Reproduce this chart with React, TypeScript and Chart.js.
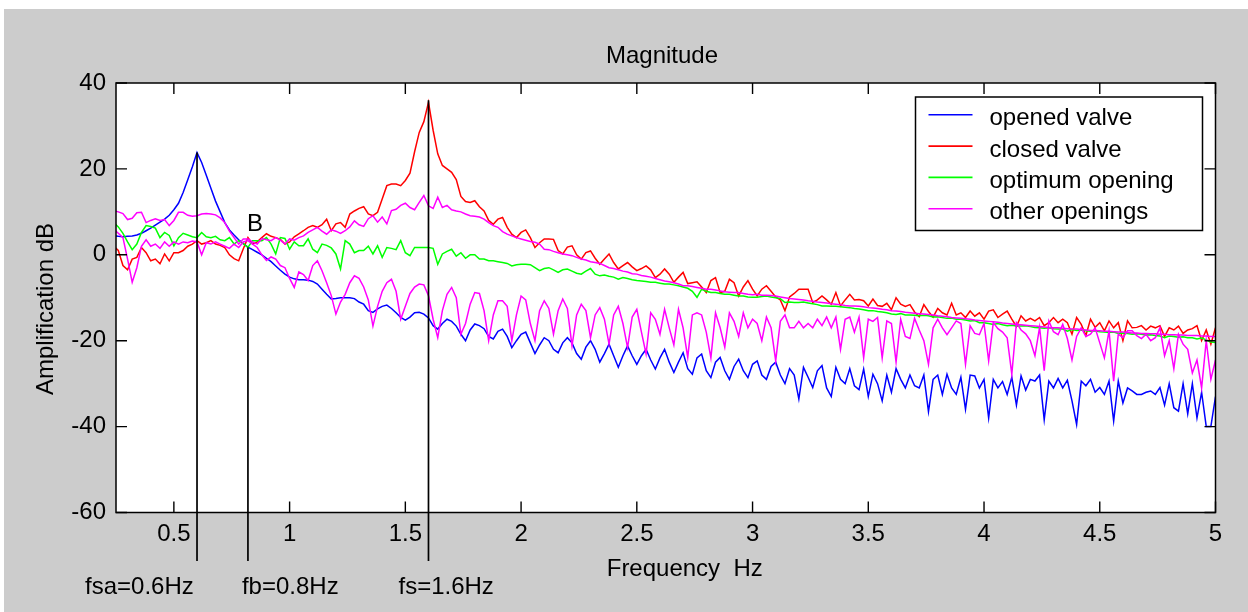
import React, { useEffect, useRef } from 'react';
import { Chart, registerables } from 'chart.js';

Chart.register(...registerables);

// Sampling grid of the curves (Hz)
const FREQ_START = 0.24;
const FREQ_STEP = 0.02;

const X_TICKS = [0.5, 1, 1.5, 2, 2.5, 3, 3.5, 4, 4.5, 5];
const Y_TICKS = [-60, -40, -20, 0, 20, 40];

// opened valve (dB), 0.24 .. 5.00 Hz
const OPENED_VALVE = [
  4.5, 4.3, 4.2, 4.3, 4.4, 4.6, 5.0, 5.6, 6.2, 6.9,
  7.6, 8.3, 9.2, 10.5, 12, 14.5, 17.5, 20.5, 23.8, 21.5,
  18.5, 15.5, 12.5, 10, 7.5, 5.8, 4.6, 3.5, 2.6, 1.8,
  1.2, 0.6, 0, -0.8, -1.6, -2.6, -3.6, -4.5, -5.2, -5.6,
  -5.8, -5.8, -5.9, -6.2, -6.8, -8, -9.2, -10.3, -10.2, -10,
  -10, -10, -10.2, -11, -11.5, -13, -13.4, -12.6, -12, -11.7,
  -12.5, -13.5, -14.6, -15.2, -14.5, -13.5, -13.4, -13.8, -14.7, -16.5,
  -17.3, -16, -15, -15.5, -16.6, -18.5, -20, -17.5, -16.1, -16.5,
  -17.2, -19, -19.6, -17.8, -17.3, -19, -21.6, -20, -18.5, -18,
  -20.5, -23, -21, -19.3, -20, -22, -22.8, -20.5, -19.3, -20.5,
  -23, -24.3, -21.5, -20, -22, -25, -23, -20.8, -23.5, -26.2,
  -23.5, -21.2, -23.5, -25.5, -23.5, -22, -24.5, -26.6, -24, -22,
  -25, -27.4, -25, -22.8, -26.5, -27.8, -24, -23.1, -27, -28.6,
  -25, -23.9, -27, -29, -26, -24.3, -27, -28.6, -25.5, -24.7,
  -28, -29, -26, -25, -28, -30, -26.5, -28, -33.6, -26.2,
  -28.5, -30.9, -27, -25.8, -31, -33, -26.2, -29, -30, -26.5,
  -30.5, -31.4, -26.6, -33, -27.8, -30, -34, -28, -32, -26.5,
  -29, -31, -28, -30.5, -31, -28, -36.5, -29, -28, -32.5,
  -27.8, -31, -32.5, -28.5, -36, -28, -28.2, -31, -29, -38,
  -29, -31, -29.5, -32.5, -28.5, -35, -28.2, -31.5, -29, -29.4,
  -28, -38.4, -29.4, -31, -28.8, -31, -29.2, -34, -39.5, -29.4,
  -30.5, -29, -32, -30.9, -32.5, -29.4, -38.7, -29.4, -34.5, -31,
  -31.7, -32.5, -32.5, -32, -31.7, -32.5, -30.9, -35, -30, -35.6,
  -36.4, -30, -37, -30, -38, -32, -40, -40, -33,
];

// closed valve (dB)
const CLOSED_VALVE = [
  2, 1, -2.5, -3.5, -1, -0.6, 1.7, 0.5, -1.4, -1,
  -2.1, 0.2, -1.4, 0.5, 0.5, 1, 2, 2.5, 3.3, 2.5,
  2.8, 3.3, 2.5, 2.2, 1.7, 0, -0.9, -1.4, 1.4, 4,
  2.5, 3, 4, 4.9, 4.3, 4, 3.6, 2.5, 3, 4.2,
  4.9, 5.6, 6.4, 6.8, 6.4, 7, 8.3, 5.6, 7.2, 7.5,
  6.4, 9.5, 10.2, 10.8, 11.2, 9.5, 9.1, 9.9, 13, 16.1,
  16.5, 16.5, 16.1, 17.3, 19, 24, 28.5, 31, 35.5, 29,
  23.5, 20.8, 20, 19.2, 17.5, 13.6, 12.4, 12.2, 12.6, 11.2,
  10.2, 8, 7.1, 8.3, 8.7, 6.4, 4.8, 4, 5.2, 5.8,
  4, 1.7, 2.8, 3.7, 3.7, 3.6, 1, 0.2, 1.8, 2.1,
  0, -1, 0.5, 0.9, -0.8, -2.2, -1, 0.2, -1.8, -3.3,
  -2.5, -1.8, -2.8, -3.7, -3.2, -2.6, -3.5, -5.3, -4.5, -3.3,
  -4.5, -6.4, -5.2, -4.1, -6.7, -6.5, -6.3, -7.5, -8.8, -6,
  -5.3, -8.8, -8.5, -5.7, -6.5, -9.6, -7.5, -6, -8, -9.6,
  -8, -7.2, -8.5, -9.8, -10.5, -13, -9.8, -9, -8, -8,
  -8, -11.1, -10.5, -9.6, -10.5, -11.5, -8.8, -11.9, -10.5, -9.2,
  -10.5, -10.4, -10.7, -11.9, -10.3, -11.8, -12, -11.3, -12.8, -10,
  -11.5, -12, -11.6, -13.3, -14.4, -11.6, -13.2, -14.5, -12.5, -13.5,
  -14, -11.3, -14, -13.5, -14.6, -13.1, -14.3, -13.5, -15, -13.1,
  -12.8, -14.6, -13.8, -13.1, -15, -16.7, -14.2, -15.4, -14.8, -15.4,
  -14.6, -16.5, -15.8, -14.6, -15.8, -15, -15.8, -18.5, -14.6, -16.2,
  -18.8, -15, -16.9, -15.8, -17.7, -15.4, -17, -15.8, -20, -15.4,
  -17, -16.9, -16.5, -17.5, -16.6, -17, -16.5, -19, -17, -17.5,
  -16.6, -18.3, -17.5, -17.2, -16.5, -20, -17.5, -20.8, -17,
];

// optimum opening (dB)
const OPTIMUM_OPENING = [
  7.5, 6.5, 5, 3, 1.2, 2.5, 5.2, 6.8, 6.6, 6.2,
  4, 5.2, 4.5, 2.1, 4, 5, 4.6, 4.2, 4, 5.2,
  4.2, 4, 4.3, 3.5, 3.3, 4, 2.5, 3.3, 2.6, 1.7,
  3.3, 3.3, 3.3, 4, 2.5, 0.2, 4, 3.8, 1.3, 3,
  2.1, 2.1, 3.7, 1.3, 0.5, 2.5, 2.2, 1.6, 0.2, -3.3,
  3.3, 2.5, 0.5, 1, 1, 2, 0.2, 2.1, -0.6, 1.7,
  1.5, 1.2, 3.3, 0.5, -0.2, 1.7, 1.7, 1.7, 1.7, 1.5,
  -2.2, 0.2, 0.8, 1.3, -0.3, 0.5, -0.8, 0, 0, -1,
  -1, -1.4, -1.4, -1.6, -1.8, -2, -2.6, -2.3, -2.2, -2.2,
  -2.3, -3, -3.7, -3.2, -3, -3.5, -4.1, -3.5, -3.3, -3.8,
  -4.3, -4.5, -3.8, -3.2, -4.5, -4.9, -4.7, -5, -5.2, -5.7,
  -5.3, -5.5, -5.8, -6, -6.1, -6.2, -6.4, -6.4, -6.6, -6.8,
  -6.8, -7, -7.2, -7.5, -7.8, -8.5, -9.9, -8, -8.5, -8.8,
  -8.8, -9, -9.2, -9.2, -9.4, -9.6, -9.6, -9.8, -9.9, -9.9,
  -9.7, -9.6, -9.8, -10, -10.2, -11.1, -11, -11.1, -11.1, -11,
  -11.2, -11.4, -11.6, -11.9, -11.9, -12, -12, -12.1, -12.2, -12.3,
  -12.5, -12.6, -12.8, -13, -13, -13.2, -13.3, -13.5, -13.8, -13.9,
  -13.7, -14, -14, -14.1, -14.2, -14.1, -14.2, -14.5, -14.4, -14.6,
  -14.8, -14.7, -15, -15, -15.2, -15.4, -15.3, -15.8, -15.8, -16,
  -16.2, -16, -16.3, -16.5, -16.4, -16.6, -16.6, -16.5, -16.7, -16.9,
  -17, -17.1, -17, -17.2, -17.3, -17.3, -17.8, -17.4, -17.6, -17.5,
  -17.7, -17.8, -17.7, -17.9, -18, -18.1, -18, -18.3, -18.2, -18.3,
  -18.5, -18.4, -18.5, -18.7, -18.6, -18.8, -18.9, -19.3, -18.9, -19,
  -19.2, -19.1, -19.3, -19.3, -19.6, -19.4, -19.8, -20.3, -20.4,
];

// other openings, upper trace (dB)
const OTHER_OPENINGS_A = [
  10.3, 10, 9.6, 8.2, 8.5, 9.8, 9.9, 7.5, 8, 8.4,
  8, 8.2, 6.8, 8, 9.9, 9.9, 9.2, 9, 9.1, 9.5,
  9.6, 9.5, 9.3, 8.6, 7.5, 5.5, 4, 2.5, 3.7, 3.7,
  3, 2.5, 3.8, 3.5, 3.3, 4, 3.4, 2.5, 3.7, 3.4,
  4, 4.4, 5.2, 5.8, 6.4, 5.5, 4.8, 5.8, 5.5, 5,
  5.6, 6.5, 7.9, 7, 6.6, 8.4, 9.1, 7.6, 8.8, 7.2,
  10.3, 10.6, 11.5, 12, 11, 10.5, 12.2, 13.8, 11.4, 10.8,
  13.4, 11, 11.5, 10.5, 10.2, 10, 9.5, 9.1, 9, 8.8,
  8.3, 7.5, 6.8, 6.4, 5.4, 4.8, 4.4, 4, 3.7, 3.4,
  3.1, 2.9, 2.5, 1.3, 1.2, 0.8, 0.5, 0.2, 0, -0.2,
  -0.6, -1, -1.2, -1.6, -1.8, -2, -2.5, -3, -3.2, -3.5,
  -3.8, -4, -4.4, -4.5, -4.8, -5, -5.2, -5.5, -5.8, -6.1,
  -6.3, -6.5, -6.8, -7.2, -7.2, -7.4, -7.6, -7.8, -8, -8,
  -8.2, -8.4, -8.6, -8.7, -8.8, -8.8, -9, -9.2, -9.3, -9.2,
  -9.4, -9.4, -9.5, -9.6, -9.8, -10, -10.2, -10.3, -10.4, -10.5,
  -10.7, -10.8, -11, -11.1, -11.2, -11.4, -11.5, -11.6, -11.8, -11.9,
  -11.9, -12, -12.1, -12.3, -12.4, -12.5, -12.7, -12.8, -13, -13.1,
  -13.2, -13.4, -13.5, -13.6, -13.7, -13.8, -13.9, -14, -14.2, -14.3,
  -14.4, -14.6, -14.7, -14.8, -14.9, -15, -15.2, -15.3, -15.4, -15.5,
  -15.6, -15.7, -15.9, -16, -16.1, -16.2, -16.3, -16.4, -16.5, -16.6,
  -16.7, -16.8, -16.9, -17, -17, -17.1, -17.2, -17.3, -17.3, -17.4,
  -17.5, -17.6, -17.6, -17.7, -17.8, -17.8, -17.9, -18, -18, -18.1,
  -18.2, -18.2, -18.3, -18.3, -18.4, -18.4, -18.5, -18.5, -18.6, -18.6,
  -18.7, -18.7, -18.8, -18.8, -18.8, -18.9, -18.9, -19, -19,
];

// other openings, lower oscillating trace (dB)
const OTHER_OPENINGS_B = [
  6, 5, 4, -1, -6.4, -3, 2, 3.5, 2, 2.5,
  1.5, 3, 2, 3, 2.5, 3, 2.8, 3.2, 3, 0,
  2.8, 2.5, 3, 2.5, 2, 1.5, 2.5, 1.7, 3, 3.3,
  2.5, 1.7, 0, -1.3, -0.5, -1, -2.5, -3, -5.5, -7.6,
  -4, -4.6, -6, -2.5, -1.4, -3.7, -6.5, -9.5, -13.8, -11,
  -9.2, -6.5, -4.9, -5.5, -7.5, -10.5, -16.6, -12, -8.5, -6.5,
  -5.7, -8.5, -15, -12, -9, -7.5, -6.8, -7, -9.5, -15,
  -19.3, -13, -9.2, -7.6, -10, -18.5, -16, -11.5, -8.8, -9,
  -13, -20, -14, -10.7, -10.7, -12, -20, -14, -9.6, -10.5,
  -16, -20, -13, -10.7, -12.5, -18.5, -13, -10.3, -12.5, -21.2,
  -14, -11.5, -13, -19.3, -14, -12.3, -15, -20.8, -14, -12,
  -16, -21.6, -14.5, -12.7, -18, -23.1, -13.5, -15, -18.5, -12.7,
  -17, -21, -12.7, -17, -23.9, -14, -13.5, -14, -18, -24,
  -13.5, -17, -21.5, -13.5, -15.5, -19, -13.5, -17, -15, -16,
  -20, -14.5, -17, -24.7, -15.5, -14, -17, -17, -15.5, -17,
  -16, -17, -15, -16.5, -14.5, -17, -14.5, -22, -15, -14.5,
  -18, -14.5, -24, -15, -15.5, -14.6, -24, -15.4, -16, -25,
  -15, -19, -19.5, -14.8, -17.5, -20, -25.5, -17, -15, -17,
  -18.6, -17, -15.4, -16, -25.5, -16.5, -18.3, -18.6, -16, -24.7,
  -15.8, -17.2, -18, -19.3, -27.8, -15.8, -17.5, -18.4, -20, -23.5,
  -16.9, -27, -15.4, -17.9, -18.6, -16.2, -19.5, -24.5, -19, -17,
  -19, -18.5, -17, -20.5, -24, -17.7, -29.4, -18.5, -19.3, -17.7,
  -17.7, -18.8, -19.5, -18.5, -20, -19.3, -17, -23.5, -20, -26.5,
  -18.5, -20.8, -22, -27.5, -24.5, -31, -20, -29, -24.5,
];

// vertical marker lines: frequency, top (dB), label
const MARKER_FREQS = [0.6, 0.82, 1.6];
const MARKER_TOPS = [23.8, 1.7, 36];
const MARKER_LABELS = ['fsa=0.6Hz', 'fb=0.8Hz', 'fs=1.6Hz'];
const MARKER_BOTTOM = -71.3;
const POINT_B_LABEL = 'B';

const LEGEND_LABELS = ['opened valve', 'closed valve', 'optimum opening', 'other openings'];
const LEGEND_COLORS = ['#0000ff', '#ff0000', '#00ff00', '#ff00ff'];

const FONT = '"Liberation Sans", Arial, Helvetica, sans-serif';
const FS = 24;
const LABEL_DX = [-112, -6, -30];

const toPoints = (vals: number[]) =>
  vals.map((y, i) => ({ x: Math.round((FREQ_START + i * FREQ_STEP) * 100) / 100, y }));

const decorPlugin = {
  id: 'decor',
  beforeDraw(chart: any) {
    const { ctx, chartArea: a } = chart;
    ctx.save();
    ctx.fillStyle = '#ffffff';
    ctx.fillRect(0, 0, chart.width, chart.height);
    ctx.fillStyle = '#cccccc';
    ctx.fillRect(4, 9, chart.width - 4, chart.height - 9);
    ctx.fillStyle = '#ffffff';
    ctx.fillRect(a.left, a.top, a.right - a.left, a.bottom - a.top);
    ctx.restore();
  },
  afterDraw(chart: any) {
    const { ctx, chartArea: a } = chart;
    const xs = chart.scales.x;
    const ys = chart.scales.y;
    ctx.save();
    // frame
    ctx.strokeStyle = '#000';
    ctx.lineWidth = 1.5;
    ctx.strokeRect(a.left, a.top, a.right - a.left, a.bottom - a.top);
    // inward ticks
    ctx.lineWidth = 1.4;
    ctx.beginPath();
    X_TICKS.forEach((v) => {
      const px = xs.getPixelForValue(v);
      ctx.moveTo(px, a.bottom);
      ctx.lineTo(px, a.bottom - 11);
      ctx.moveTo(px, a.top);
      ctx.lineTo(px, a.top + 11);
    });
    Y_TICKS.forEach((v) => {
      const py = ys.getPixelForValue(v);
      ctx.moveTo(a.left, py);
      ctx.lineTo(a.left + 11, py);
      ctx.moveTo(a.right, py);
      ctx.lineTo(a.right - 11, py);
    });
    ctx.stroke();

    ctx.fillStyle = '#000';
    ctx.font = `${FS}px ${FONT}`;
    ctx.textBaseline = 'alphabetic';
    // title
    ctx.textAlign = 'center';
    ctx.fillText('Magnitude', a.left + 546, a.top - 20);
    // x title
    ctx.fillText('Frequency  Hz', (a.left + a.right) / 2 + 19, a.bottom + 63.5);
    // y title
    ctx.save();
    ctx.translate(53, a.top + 226);
    ctx.rotate(-Math.PI / 2);
    ctx.fillText('Amplification dB', 0, 0);
    ctx.restore();
    // marker labels
    ctx.textAlign = 'left';
    MARKER_FREQS.forEach((f, i) => {
      const px = xs.getPixelForValue(f);
      ctx.fillText(MARKER_LABELS[i], px + LABEL_DX[i], a.bottom + 81);
    });
    // point B
    ctx.fillText(POINT_B_LABEL, xs.getPixelForValue(MARKER_FREQS[1]) - 1, ys.getPixelForValue(MARKER_TOPS[1]) - 16);

    // legend
    const bx = a.right - 300;
    const by = a.top + 14;
    const bw = 287;
    const bh = 133.5;
    ctx.fillStyle = '#ffffff';
    ctx.fillRect(bx, by, bw, bh);
    ctx.strokeStyle = '#000';
    ctx.lineWidth = 1.5;
    ctx.strokeRect(bx, by, bw, bh);
    LEGEND_LABELS.forEach((lab, i) => {
      const base = by + 28.3 + i * 31.3;
      ctx.strokeStyle = LEGEND_COLORS[i];
      ctx.lineWidth = 1.6;
      ctx.beginPath();
      ctx.moveTo(bx + 13, base - 10.5);
      ctx.lineTo(bx + 57, base - 10.5);
      ctx.stroke();
      ctx.fillStyle = '#000';
      ctx.fillText(lab, bx + 74, base);
    });
    ctx.restore();
  },
};

export default function App() {
  const ref = useRef<HTMLCanvasElement | null>(null);

  useEffect(() => {
    document.body.style.margin = '0';
    const canvas = ref.current;
    if (!canvas) return;
    const line = (data: any[], color: string, order: number, width = 1.5) => ({
      data,
      borderColor: color,
      backgroundColor: color,
      borderWidth: width,
      pointRadius: 0,
      tension: 0,
      fill: false,
      order,
    });
    const markers = MARKER_FREQS.map((f, i) => ({
      ...line(
        [
          { x: f, y: MARKER_TOPS[i] },
          { x: f, y: MARKER_BOTTOM },
        ],
        '#000000',
        0,
        1.7
      ),
      clip: false as any,
    }));

    const chart = new Chart(canvas, {
      type: 'line',
      data: {
        datasets: [
          line(toPoints(OPENED_VALVE), '#0000ff', 4),
          line(toPoints(CLOSED_VALVE), '#ff0000', 3),
          line(toPoints(OPTIMUM_OPENING), '#00ff00', 2),
          line(toPoints(OTHER_OPENINGS_A), '#ff00ff', 1),
          line(toPoints(OTHER_OPENINGS_B), '#ff00ff', 1),
          ...markers,
        ] as any,
      },
      options: {
        animation: false,
        responsive: false,
        devicePixelRatio: 1,
        parsing: false as any,
        normalized: true,
        layout: { padding: { top: 83, right: 32.5, left: 0, bottom: 0 } },
        plugins: {
          legend: { display: false },
          title: { display: false },
          tooltip: { enabled: false },
        },
        events: [],
        scales: {
          x: {
            type: 'linear',
            min: 0.25,
            max: 5,
            grid: { display: false, drawTicks: false, tickLength: 0 },
            border: { display: false },
            afterBuildTicks: (s: any) => {
              s.ticks = X_TICKS.map((v) => ({ value: v }));
            },
            afterFit: (s: any) => {
              s.height = 99.5;
            },
            ticks: {
              autoSkip: false,
              maxRotation: 0,
              minRotation: 0,
              padding: 7,
              color: '#000',
              font: { family: FONT, size: FS },
              callback: (v: any) => String(v),
            },
          },
          y: {
            type: 'linear',
            min: -60,
            max: 40,
            grid: { display: false, drawTicks: false, tickLength: 0 },
            border: { display: false },
            afterBuildTicks: (s: any) => {
              s.ticks = Y_TICKS.map((v) => ({ value: v }));
            },
            afterFit: (s: any) => {
              s.width = 116;
            },
            ticks: {
              autoSkip: false,
              padding: 10,
              color: '#000',
              font: { family: FONT, size: FS },
              callback: (v: any) => String(v),
            },
          },
        },
      },
      plugins: [decorPlugin],
    });
    return () => chart.destroy();
  }, []);

  return (
    <div style={{ width: 1248, height: 612, position: 'relative', background: '#fff' }}>
      <canvas ref={ref} width={1248} height={612} style={{ display: 'block', width: 1248, height: 612 }} />
    </div>
  );
}
